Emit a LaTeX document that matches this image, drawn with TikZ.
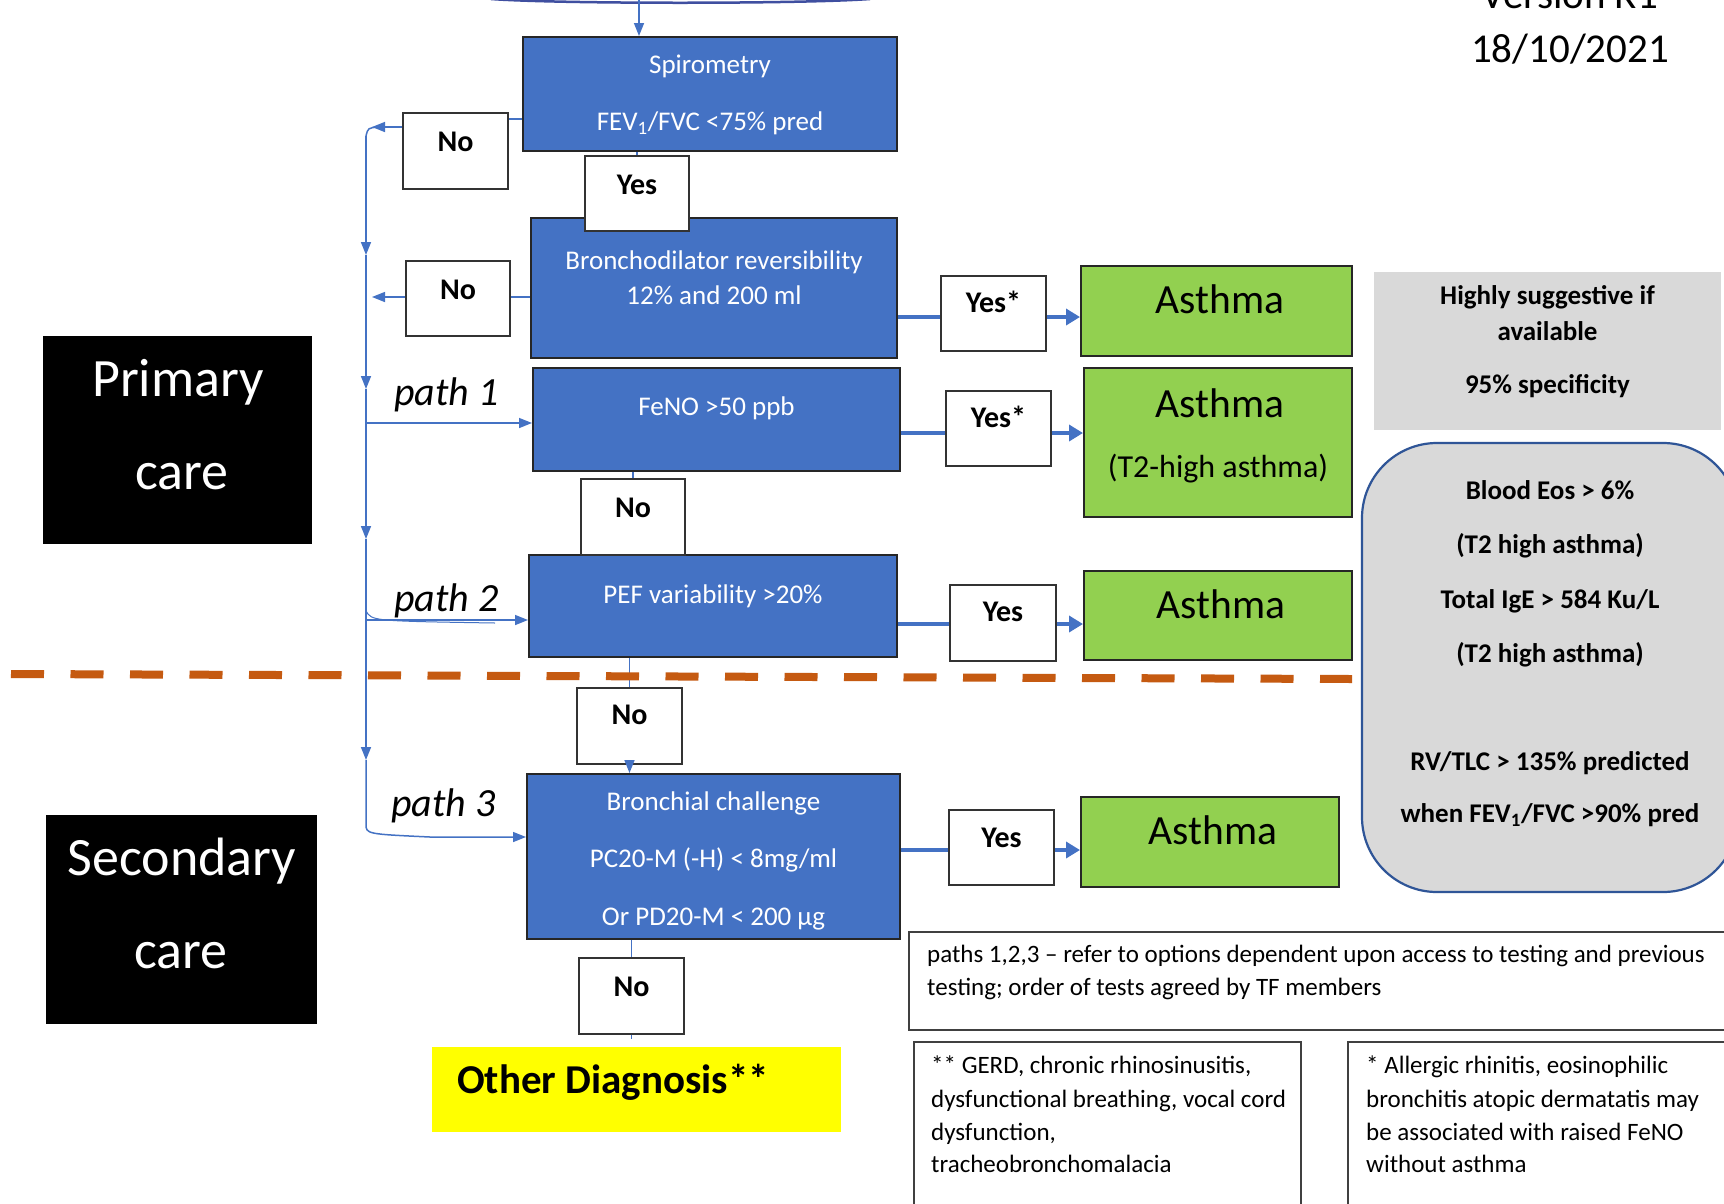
\documentclass[tikz,border=0pt]{standalone}
\usepackage{fontspec}
\setmainfont{Carlito}
\usetikzlibrary{arrows.meta,calc}
\definecolor{bl}{HTML}{4472C4}
\definecolor{gr}{HTML}{92D050}
\definecolor{ye}{HTML}{FFFF00}
\definecolor{gy}{HTML}{D9D9D9}
\definecolor{orl}{HTML}{C55A11}
\definecolor{rb}{HTML}{2F5597}
\definecolor{tp}{HTML}{3F4FA0}
\begin{document}
\begin{tikzpicture}[x=1pt,y=-1pt,
  box/.style={inner sep=0pt, line width=2pt},
  bbox/.style={box, draw=black!85, fill=bl},
  nbox/.style={box, draw=black!80, line width=1.6pt, fill=white},
  gbox/.style={box, draw=black!85, fill=gr},
  tx/.style={inner sep=0pt, text depth=0pt},
  wt/.style={tx, text height=16.7pt, text=white, font=\fontsize{27}{31}\selectfont},
  yn/.style={tx, text height=18.6pt, font=\bfseries\fontsize{30}{34}\selectfont},
  ast/.style={tx, text height=25.7pt, font=\fontsize{41.5}{46}\selectfont},
  bigw/.style={tx, text height=33.5pt, text=white, font=\fontsize{54}{60}\selectfont},
  pth/.style={inner sep=0pt, anchor=base west, font=\itshape\fontsize{40}{44}\selectfont},
  gb/.style={tx, text height=16.7pt, font=\bfseries\fontsize{27}{31}\selectfont},
  ntx/.style={inner sep=0pt, anchor=base west, font=\fontsize{25}{29}\selectfont},
  ln/.style={draw=bl, line width=1.5pt},
  ar/.style={ln, -{Triangle[length=13pt,width=10pt]}},
  thk/.style={draw=bl, line width=4.5pt},
  tar/.style={thk, -{Triangle[length=14pt,width=16pt]}},
]
\useasboundingbox (0,0) rectangle (1724,1203);
\fill[white] (0,0) rectangle (1724,1203);

% top partial shape
\draw[tp, line width=2.5pt] (491,-1) .. controls (560,4) and (800,4) .. (870,-1);

% black side boxes
\node[box, fill=black, minimum width=269, minimum height=208] (pc) at (177.5,440) {};
\node[box, fill=black, minimum width=271, minimum height=209] (sc) at (181.5,919.5) {};

% main blue boxes
\node[bbox, minimum width=374, minimum height=114] (sp) at (710,94) {};
\node[bbox, minimum width=366, minimum height=140] (br) at (714,288) {};
\node[bbox, minimum width=367, minimum height=103] (fe) at (716.5,419.5) {};
\node[bbox, minimum width=368, minimum height=102] (pef) at (713,606) {};
\node[bbox, minimum width=373, minimum height=165] (bc) at (713.5,856.5) {};

% yes/no boxes
\node[nbox, minimum width=105, minimum height=76] (no1) at (455.5,151) {};
\node[nbox, minimum width=104, minimum height=75] (ys1) at (637,193.5) {};
\node[nbox, minimum width=104, minimum height=75] (no2) at (458,298.5) {};
\node[nbox, minimum width=105, minimum height=75] (yy1) at (993.5,313.5) {};
\node[nbox, minimum width=105, minimum height=75] (yy2) at (998.5,428.5) {};
\node[nbox, minimum width=104, minimum height=76] (no3) at (633,517) {};
\node[nbox, minimum width=106, minimum height=76] (ys2) at (1003,623) {};
\node[nbox, minimum width=105, minimum height=76] (no4) at (629.5,726) {};
\node[nbox, minimum width=105, minimum height=75] (ys3) at (1001.5,847.5) {};
\node[nbox, minimum width=105, minimum height=76] (no5) at (631.5,996) {};

% green boxes
\node[gbox, minimum width=271, minimum height=90] (as1) at (1216.5,311) {};
\node[gbox, minimum width=268, minimum height=149] (as2) at (1218,442.5) {};
\node[gbox, minimum width=268, minimum height=89] (as3) at (1218,615.5) {};
\node[gbox, minimum width=258, minimum height=90] (as4) at (1210,842) {};

% grey boxes
\node[box, fill=gy, minimum width=347, minimum height=158] (g1) at (1547.5,351) {};
\node[box, draw=rb, fill=gy, line width=2.2pt, rounded corners=75pt, minimum width=376, minimum height=449] (rg) at (1550,667.5) {};

% note boxes
\node[box, draw=black!75, line width=1.6pt, fill=white, minimum width=831, minimum height=98] (nt) at (1324.5,981) {};
\node[box, draw=black!75, line width=1.6pt, fill=white, minimum width=387, minimum height=173] (gd) at (1107.5,1128.5) {};
\node[box, draw=black!75, line width=1.6pt, fill=white, minimum width=392, minimum height=173] (al) at (1544,1128.5) {};

% other diagnosis
\node[box, fill=ye, minimum width=409, minimum height=85] (od) at (636.5,1089.5) {};

% ---- connectors ----
\coordinate (top) at (639,0);
\draw[ar] (top) -- (top |- sp.north);
\draw[ln] (ys1.north |- sp.south) -- (ys1.north);
\draw[ln] (sp.west |- 0,119) -- (no1.east |- 0,119);
\draw[ln] (br.west |- 0,297) -- (no2.east |- 0,297);

\coordinate (v0) at (372,127);
\coordinate (v1) at (366,136);
\coordinate (va) at (366,255);
\coordinate (vb) at (366,389);
\coordinate (vc) at (366,539);
\coordinate (vd) at (366,760);
\coordinate (ve) at (366,824);
\draw[ar] (no1.west |- v0) -- (v0);
\draw[ln] (378,127) .. controls (368,128) .. (v1);
\draw[ar] (v1) -- (va);
\draw[ar] (va) -- (vb);
\draw[ar] (vb) -- (vc);
\draw[ar] (vc) -- (vd);
\draw[ar] (no2.west |- 0,297) -- (372,297);
\draw[ar] (366,423) -- (fe.west |- 0,423);
\draw[ar] (366,620) -- (pef.west |- 0,620);
\draw[draw=bl, line width=1pt] (366,611) .. controls (372,621) .. (495,623);
\draw[ar] (vd) -- (ve) .. controls (366,834) .. (430,837) -- (bc.west |- 0,837);

\draw[ln] (fe.south -| no3.north) -- (no3.north);
\draw[ln] (pef.south -| no4.north) -- (no4.north);
\draw[ar] (no4.south) -- (no4.south |- bc.north);
\draw[ln] (bc.south -| no5.north) -- (no5.north);
\draw[ln] (no5.south) -- ++(0,4);

\draw[thk] (br.east |- 0,317) -- (yy1.west |- 0,317);
\draw[tar] (yy1.east |- 0,317) -- (as1.west |- 0,317);
\draw[thk] (fe.east |- 0,433) -- (yy2.west |- 0,433);
\draw[tar] (yy2.east |- 0,433) -- (as2.west |- 0,433);
\draw[thk] (pef.east |- 0,624) -- (ys2.west |- 0,624);
\draw[tar] (ys2.east |- 0,624) -- (as3.west |- 0,624);
\draw[thk] (bc.east |- 0,850) -- (ys3.west |- 0,850);
\draw[tar] (ys3.east |- 0,850) -- (as4.west |- 0,850);

% dashed divider
\draw[orl, line width=8pt, dash pattern=on 33pt off 26.5pt] (11,674) -- (1352,679);

% ---- texts ----
\node[inner sep=0pt, font=\fontsize{41}{46}\selectfont, anchor=base] (ver) at (1570,8) {Version R1};
\node[tx, text height=25.4pt, font=\fontsize{41}{46}\selectfont] (dt) at (1570,50) {18/10/2021};

\node[wt] (t1) at (710,65) {Spirometry};
\node[wt] (t2) at (710,122) {FEV\textsubscript{1}/FVC <75\% pred};
\node[wt] (t3) at (714,261) {Bronchodilator reversibility};
\node[wt] (t4) at (714,296) {12\% and 200 ml};
\node[wt] (t5) at (716.5,407) {FeNO >50 ppb};
\node[wt] (t6) at (713,595) {PEF variability >20\%};
\node[wt] (t7) at (713.5,802) {Bronchial challenge};
\node[wt] (t8) at (713.5,859) {PC20-M (-H) < 8mg/ml};
\node[wt] (t9) at (713.5,917) {Or PD20-M < 200 µg};

\node[yn] (l1) at ([yshift=-30pt]no1.north) {No};
\node[yn] (l2) at ([yshift=-30pt]ys1.north) {Yes};
\node[yn] (l3) at ([yshift=-30pt]no2.north) {No};
\node[yn] (l4) at ([yshift=-28pt]yy1.north) {Yes*};
\node[yn] (l5) at ([yshift=-28pt]yy2.north) {Yes*};
\node[yn] (l6) at ([yshift=-30pt]no3.north) {No};
\node[yn] (l7) at ([yshift=-28pt]ys2.north) {Yes};
\node[yn] (l8) at ([yshift=-28pt]no4.north) {No};
\node[yn] (l9) at ([yshift=-29pt]ys3.north) {Yes};
\node[yn] (l10) at ([yshift=-30pt]no5.north) {No};

\node[ast] (a1) at (1220,301) {Asthma};
\node[ast] (a2) at (1220,405) {Asthma};
\node[tx, text height=19.8pt, font=\fontsize{32}{36}\selectfont] (a2b) at (1218,468) {(T2-high asthma)};
\node[ast] (a3) at (1221,606) {Asthma};
\node[ast] (a4) at (1213,832) {Asthma};

\node[gb] (g1a) at (1547.5,296) {Highly suggestive if};
\node[gb] (g1b) at (1547.5,332) {available};
\node[gb] (g1c) at (1547.5,385) {95\% specificity};

\node[gb] (r1) at (1550,491) {Blood Eos > 6\%};
\node[gb] (r2) at (1550,545) {(T2 high asthma)};
\node[gb] (r3) at (1550,600) {Total IgE > 584 Ku/L};
\node[gb] (r4) at (1550,654) {(T2 high asthma)};
\node[gb] (r5) at (1550,762) {RV/TLC > 135\% predicted};
\node[gb] (r6) at (1550,814) {when FEV\textsubscript{1}/FVC >90\% pred};

\node[ntx] (n1) at (927,962) {paths 1,2,3 – refer to options dependent upon access to testing and previous};
\node[ntx] (n2) at (927,995) {testing; order of tests agreed by TF members};
\node[ntx] (m1) at (931,1073) {** GERD, chronic rhinosinusitis,};
\node[ntx] (m2) at (931,1107) {dysfunctional breathing, vocal cord};
\node[ntx] (m3) at (931,1140) {dysfunction,};
\node[ntx] (m4) at (931,1172) {tracheobronchomalacia};
\node[ntx] (k1) at (1366,1073) {* Allergic rhinitis, eosinophilic};
\node[ntx] (k2) at (1366,1107) {bronchitis atopic dermatatis may};
\node[ntx] (k3) at (1366,1140) {be associated with raised FeNO};
\node[ntx] (k4) at (1366,1172) {without asthma};

\node[tx, text height=25.4pt, anchor=west, font=\bfseries\fontsize{41}{46}\selectfont] (odt) at (457,1081) {Other Diagnosis**};

\node[bigw] (p1) at (178,380) {Primary};
\node[bigw] (p2) at (182,473) {care};
\node[bigw] (s1) at (182,859) {Secondary};
\node[bigw] (s2) at (181,952) {care};

\node[pth] (pa1) at (394,405) {path 1};
\node[pth] (pa2) at (394,611) {path 2};
\node[pth] (pa3) at (391,816) {path 3};
\end{tikzpicture}
\end{document}
